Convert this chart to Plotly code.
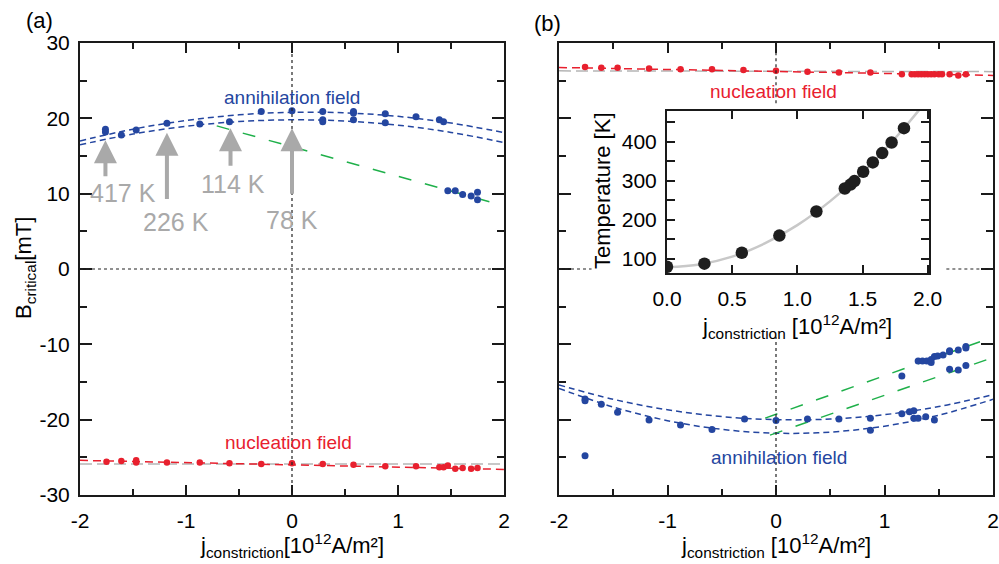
import plotly.graph_objects as go

# ---------------- data ----------------
# Panel (a)
a_ann_x = [-1.76, -1.76, -1.61, -1.47, -1.18, -0.87, -0.59, -0.29, 0.0, 0.29, 0.29, 0.29,
           0.58, 0.58, 0.58, 0.88, 0.88, 1.17, 1.39, 1.43]
a_ann_y = [18.55, 18.2, 17.8, 18.45, 19.35, 19.25, 19.55, 20.9, 21.0, 20.9, 19.8, 19.55,
           20.9, 20.7, 19.8, 20.6, 19.4, 20.2, 19.8, 19.55]
a_low_x = [1.47, 1.54, 1.61, 1.69, 1.75, 1.75]
a_low_y = [10.4, 10.4, 9.9, 9.7, 10.2, 9.2]
a_nuc_x = [-1.75, -1.61, -1.47, -1.47, -1.18, -0.87, -0.59, -0.29, 0.0, 0.29, 0.58, 0.88,
           1.17, 1.39, 1.43, 1.47, 1.54, 1.61, 1.69, 1.75]
a_nuc_y = [-25.6, -25.5, -25.4, -25.7, -25.7, -25.7, -25.8, -25.9, -25.8, -25.9, -26.0, -26.2,
           -26.2, -26.3, -26.3, -26.1, -26.5, -26.4, -26.5, -26.4]

fit_x = [-2, -1.5, -1, -0.5, 0, 0.5, 1, 1.5, 2]
a_fit_up = [17.0, 18.56, 19.71, 20.46, 20.8, 20.73, 20.26, 19.38, 18.1]
a_fit_lo = [16.49, 17.91, 18.94, 19.57, 19.8, 19.64, 19.09, 18.13, 16.79]
a_green_x = [-0.71, 1.92]
a_green_y = [19.0, 8.7]
a_red_x = [-2, 2]
a_red_y = [-25.4, -26.6]
a_grey_x = [-2, 2]
a_grey_y = [-25.9, -25.9]

arrow_x = [-1.76, -1.18, -0.58, 0.0]
arrow_tip = [17.1, 18.1, 18.7, 18.7]
arrow_tail = [12.1, 9.1, 13.5, 9.8]
temp_labels = ["417 K", "226 K", "114 K", "78 K"]
temp_label_x = [-1.59, -1.09, -0.56, 0.0]
temp_label_y = [10.1, 6.2, 11.3, 6.5]

# Panel (b)
b_nuc_x = [-1.76, -1.61, -1.46, -1.17, -0.88, -0.59, -0.30, 0.0, 0.29, 0.58, 0.87, 1.16,
           1.25, 1.28, 1.31, 1.34, 1.37, 1.40, 1.43, 1.46, 1.50, 1.53, 1.60, 1.68, 1.75]
b_nuc_y = [26.8, 26.7, 26.7, 26.6, 26.5, 26.5, 26.4, 26.3, 26.2, 26.1, 26.1, 25.85,
           25.85, 25.85, 25.85, 25.85, 25.85, 25.85, 25.85, 25.85, 25.85, 25.85, 25.85, 25.7, 25.85]
b_ann_x = [-1.76, -1.76, -1.76, -1.61, -1.46, -1.17, -0.88, -0.59, -0.29, 0.0, 0.29, 0.58,
           0.87, 0.87, 1.16, 1.23, 1.27, 1.27, 1.31, 1.38, 1.46]
b_ann_y = [-17.25, -17.5, -24.8, -17.95, -19.0, -20.05, -20.7, -21.3, -19.9, -20.1, -19.9, -19.9,
           -19.8, -21.4, -19.2, -18.95, -18.8, -19.8, -19.8, -19.6, -20.05]
b_hot_x = [1.16, 1.31, 1.35, 1.39, 1.43, 1.43, 1.46, 1.49, 1.54, 1.60, 1.60, 1.68, 1.75, 1.75,
           1.60, 1.68, 1.75]
b_hot_y = [-14.2, -12.2, -12.2, -12.2, -12.0, -12.4, -11.6, -11.55, -11.4, -10.85, -11.0, -10.75,
           -10.3, -10.5, -13.3, -13.4, -12.8]
b_fit_up = [-15.39, -17.29, -18.69, -19.59, -20.0, -19.92, -19.34, -18.26, -16.69]
b_fit_lo = [-15.85, -18.32, -20.13, -21.29, -21.8, -21.65, -20.86, -19.41, -17.30]
b_green1_x = [-0.10, 1.88]
b_green1_y = [-19.8, -9.65]
b_green2_x = [-0.055, 1.97]
b_green2_y = [-22.05, -11.9]
b_red_x = [-2, 2]
b_red_y = [26.75, 25.7]
b_grey_x = [-2, 2]
b_grey_y = [26.3, 26.2]

# Inset
T_j = [0.0, 0.287, 0.574, 0.862, 1.146, 1.364, 1.408, 1.438, 1.505, 1.579, 1.651, 1.723, 1.818]
T_K = [79, 87, 115, 159, 221, 280, 290, 299, 323, 347, 371, 398, 435]
T_fit_j = [0, 0.25, 0.5, 0.75, 1.0, 1.25, 1.5, 1.75, 1.93, 2.0]
T_fit_K = [78, 85, 105, 139, 186, 247, 321, 409, 480, 510]

x_ticks = [-2, -1, 0, 1, 2]
x_ticklabels = ["-2", "-1", "0", "1", "2"]
y_ticks = [-30, -20, -10, 0, 10, 20, 30]
y_ticklabels = ["-30", "-20", "-10", "0", "10", "20", "30"]
inset_x_ticks = [0, 0.5, 1.0, 1.5, 2.0]
inset_x_labels = ["0.0", "0.5", "1.0", "1.5", "2.0"]
inset_y_ticks = [100, 200, 300, 400]

# ---------------- style ----------------
BLUE = "#2446a0"
RED = "#e8202e"
GREEN = "#1fb04a"
GREY = "#a9a9a9"
GREYLINE = "#b5b5b5"
FONT = "Liberation Sans, Arial, sans-serif"
W, H = 999, 564


def px(x):
    return x / W


def py(y):
    return 1 - y / H


fig = go.Figure()


def line(x, y, color, dash, width, xa, ya, shape="linear"):
    fig.add_trace(go.Scatter(x=x, y=y, mode="lines", xaxis=xa, yaxis=ya,
                             line=dict(color=color, dash=dash, width=width, shape=shape),
                             hoverinfo="skip"))


def pts(x, y, color, size, xa, ya):
    fig.add_trace(go.Scatter(x=x, y=y, mode="markers", xaxis=xa, yaxis=ya,
                             marker=dict(color=color, size=size, line=dict(width=0))))


# Panel (a)
line(a_grey_x, a_grey_y, GREYLINE, "12px,5px", 1.5, "x", "y")
line(a_red_x, a_red_y, RED, "8px,5px", 1.5, "x", "y")
line(fit_x, a_fit_up, BLUE, "6px,4px", 1.5, "x", "y", "spline")
line(fit_x, a_fit_lo, BLUE, "6px,4px", 1.5, "x", "y", "spline")
line(a_green_x, a_green_y, GREEN, "13px,14px", 1.5, "x", "y")
pts(a_ann_x, a_ann_y, BLUE, 7, "x", "y")
pts(a_low_x, a_low_y, BLUE, 7, "x", "y")
pts(a_nuc_x, a_nuc_y, RED, 6.5, "x", "y")

# Panel (b)
line(b_grey_x, b_grey_y, GREYLINE, "12px,5px", 1.5, "x2", "y2")
line(b_red_x, b_red_y, RED, "8px,5px", 1.5, "x2", "y2")
line(fit_x, b_fit_up, BLUE, "6px,4px", 1.5, "x2", "y2", "spline")
line(fit_x, b_fit_lo, BLUE, "6px,4px", 1.5, "x2", "y2", "spline")
line(b_green1_x, b_green1_y, GREEN, "13px,14px", 1.5, "x2", "y2")
line(b_green2_x, b_green2_y, GREEN, "13px,14px", 1.5, "x2", "y2")
pts(b_ann_x, b_ann_y, BLUE, 7, "x2", "y2")
pts(b_hot_x, b_hot_y, BLUE, 7, "x2", "y2")
pts(b_nuc_x, b_nuc_y, RED, 6.5, "x2", "y2")

# Inset
line(T_fit_j, T_fit_K, "#c8c8c8", "solid", 2.5, "x3", "y3", "spline")
pts(T_j, T_K, "#1e1e1e", 12.5, "x3", "y3")

tickfont = dict(family=FONT, size=21, color="black")
common = dict(showgrid=False, zeroline=False, showline=True, linecolor="#1a1a1a", linewidth=2,
              mirror="allticks", ticks="inside", tickcolor="#1a1a1a", tickwidth=1.5,
              tickfont=tickfont, automargin=False)

xa_common = dict(common, range=[-2, 2], tickvals=x_ticks, ticktext=x_ticklabels, ticklen=10,
                 minor=dict(ticks="inside", dtick=0.5, tick0=0, ticklen=6, tickwidth=1.5,
                            tickcolor="#1a1a1a"),
                 ticklabelstandoff=6)
ya_common = dict(common, range=[-30, 30], tickvals=y_ticks, ticktext=y_ticklabels, ticklen=12,
                 minor=dict(ticks="inside", dtick=5, tick0=0, ticklen=7, tickwidth=1.5,
                            tickcolor="#1a1a1a"),
                 ticklabelstandoff=4)

fig.update_layout(
    width=W, height=H, autosize=False,
    margin=dict(l=0, r=0, t=0, b=0, pad=0, autoexpand=False),
    paper_bgcolor="white", plot_bgcolor="white",
    showlegend=False,
    font=dict(family=FONT, color="black"),
    xaxis=dict(xa_common, domain=[px(80), px(504)], anchor="y"),
    yaxis=dict(ya_common, domain=[py(495), py(43)], anchor="x"),
    xaxis2=dict(xa_common, domain=[px(559), px(993)], anchor="y2"),
    yaxis2=dict(ya_common, domain=[py(495), py(43)], anchor="x2", showticklabels=False),
    xaxis3=dict(common, domain=[px(667), px(929)], anchor="y3", range=[0, 2.01],
                tickvals=inset_x_ticks, ticktext=inset_x_labels, ticklen=8, ticklabelstandoff=6),
    yaxis3=dict(common, domain=[py(273), py(111)], anchor="x3", range=[63, 479],
                tickvals=inset_y_ticks, ticklen=8,
                minor=dict(ticks="inside", dtick=50, tick0=0, ticklen=8, tickwidth=1.5,
                           tickcolor="#1a1a1a"),
                ticklabelstandoff=4),
)

# reference dotted lines
dot = dict(color="#222", width=1.2, dash="dot")
shapes = [
    dict(type="line", xref="x", yref="y", x0=0, x1=0, y0=-30, y1=30, line=dot),
    dict(type="line", xref="x", yref="y", x0=-2, x1=2, y0=0, y1=0, line=dot),
    dict(type="line", xref="x2", yref="y2", x0=0, x1=0, y0=22.0, y1=30, line=dot),
    dict(type="line", xref="x2", yref="y2", x0=0, x1=0, y0=-30, y1=-9.0, line=dot),
    dict(type="line", xref="x2", yref="y2", x0=-2, x1=-1.7, y0=0, y1=0, line=dot),
    dict(type="line", xref="x2", yref="y2", x0=1.57, x1=2, y0=0, y1=0, line=dot),
]
fig.update_layout(shapes=shapes)

ann = []
# temperature arrows
for xv, tip, tail in zip(arrow_x, arrow_tip, arrow_tail):
    ann.append(dict(x=xv, y=tip, ax=xv, ay=tail, xref="x", yref="y", axref="x", ayref="y",
                    text="", showarrow=True, arrowhead=2, arrowsize=1.15, arrowwidth=4,
                    arrowcolor=GREY, standoff=0, startstandoff=0))
for t, xv, yv in zip(temp_labels, temp_label_x, temp_label_y):
    ann.append(dict(x=xv, y=yv, xref="x", yref="y", text=t, showarrow=False,
                    font=dict(family=FONT, size=25, color=GREY)))

# field labels
ann += [
    dict(x=0.0, y=22.8, xref="x", yref="y", text="annihilation field", showarrow=False,
         font=dict(family=FONT, size=19, color=BLUE)),
    dict(x=-0.03, y=-23.0, xref="x", yref="y", text="nucleation field", showarrow=False,
         font=dict(family=FONT, size=19, color=RED)),
    dict(x=-0.02, y=23.5, xref="x2", yref="y2", text="nucleation field", showarrow=False,
         font=dict(family=FONT, size=19, color=RED)),
    dict(x=0.03, y=-25.0, xref="x2", yref="y2", text="annihilation field", showarrow=False,
         font=dict(family=FONT, size=19, color=BLUE)),
]

# panel labels and axis titles
title_font = dict(family=FONT, size=22, color="black")
ann += [
    dict(x=px(24), y=py(20), xref="paper", yref="paper", text="(a)", showarrow=False,
         xanchor="left", yanchor="middle", font=title_font),
    dict(x=px(532), y=py(24), xref="paper", yref="paper", text="(b)", showarrow=False,
         xanchor="left", yanchor="middle", font=title_font),
    dict(x=px(25), y=py(268), xref="paper", yref="paper", text="B<sub>critical</sub>[mT]",
         showarrow=False, textangle=-90, xanchor="center", yanchor="middle", font=title_font),
    dict(x=px(292), y=py(545), xref="paper", yref="paper",
         text="j<sub>constriction</sub>[10<sup>12</sup>A/m²]", showarrow=False,
         xanchor="center", yanchor="middle", font=title_font),
    dict(x=px(776), y=py(545), xref="paper", yref="paper",
         text="j<sub>constriction</sub> [10<sup>12</sup>A/m²]", showarrow=False,
         xanchor="center", yanchor="middle", font=title_font),
    dict(x=px(602), y=py(191), xref="paper", yref="paper", text="Temperature [K]",
         showarrow=False, textangle=-90, xanchor="center", yanchor="middle", font=title_font),
    dict(x=px(797), y=py(326), xref="paper", yref="paper",
         text="j<sub>constriction</sub> [10<sup>12</sup>A/m²]", showarrow=False,
         xanchor="center", yanchor="middle", font=title_font),
]
fig.update_layout(annotations=ann)

fig.write_html("out.html", config={"displayModeBar": False},
               post_script="document.body.style.margin='0';document.body.style.overflow='hidden';")
